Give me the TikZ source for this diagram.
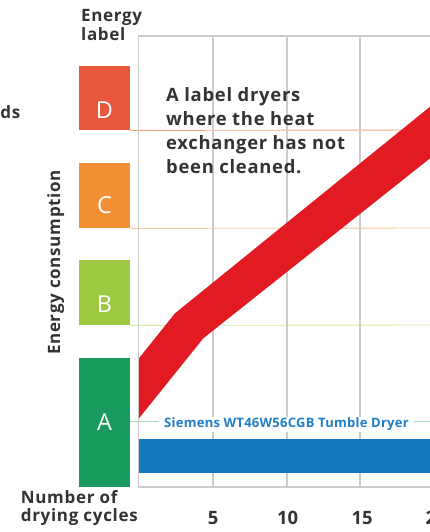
\documentclass[tikz,border=0pt]{standalone}
\usepackage{fontspec}
\setmainfont{Open Sans}
\newfontfamily\semib[LetterSpace=4]{Open Sans}
\newfontfamily\siemf[LetterSpace=2]{Open Sans}
\definecolor{cD}{HTML}{E8573B}
\definecolor{cC}{HTML}{F39035}
\definecolor{cB}{HTML}{9DC942}
\definecolor{cA}{HTML}{199A5E}
\definecolor{lD}{HTML}{F4A585}
\definecolor{lC}{HTML}{FAC89A}
\definecolor{lB}{HTML}{D6EAA6}
\definecolor{lA}{HTML}{A8D5BC}
\definecolor{gridgray}{HTML}{CCCCCC}
\definecolor{bandred}{HTML}{E21B23}
\definecolor{barblue}{HTML}{1479BF}
\definecolor{txt}{HTML}{333333}
\definecolor{siem}{HTML}{1E7FC8}
\begin{document}
\begin{tikzpicture}[x=1pt,y=-1pt,
  gridline/.style={draw=gridgray, line width=1.5pt},
  lvlline/.style={line width=0.9pt},
  ebox/.style={rectangle, inner sep=0pt, minimum width=51pt, anchor=north west},
  eletter/.style={text=white, font=\fontsize{23.4}{26}\selectfont, anchor=base, inner sep=0pt},
  maintxt/.style={text=txt, font=\semib\bfseries\fontsize{18.4}{24}\selectfont, anchor=base west, inner sep=0pt},
  axtxt/.style={text=txt, font=\semib\bfseries\fontsize{17}{20}\selectfont, inner sep=0pt},
  numtxt/.style={text=txt, font=\bfseries\fontsize{18.4}{20}\selectfont, anchor=base, inner sep=0pt}]
\useasboundingbox (0,0) rectangle (430,532);
% energy label boxes
\node[ebox, fill=cD, minimum height=64pt] (D) at (79,66) {};
\node[ebox, fill=cC, minimum height=65pt] (C) at (79,163) {};
\node[ebox, fill=cB, minimum height=65pt] (B) at (79,260) {};
\node[ebox, fill=cA, minimum height=129pt] (A) at (79,358) {};
\node[eletter] (DL) at (104.5,118.3) {D};
\node[eletter] (CL) at (104.5,213.3) {C};
\node[eletter] (BL) at (104.5,312.7) {B};
\node[eletter] (AL) at (104.5,430.7) {A};
% right edge coordinates
\coordinate (rD) at (432,130);
\coordinate (rC) at (432,228);
\coordinate (rB) at (432,325);
\coordinate (rA) at (432,421.3);
\coordinate (aA) at (130,421.3);
\draw[lvlline, draw=lD] (D.south east) -- (rD);
\draw[lvlline, draw=lC] (C.south east) -- (rC);
\draw[lvlline, draw=lB] (B.south east) -- (rB);
\draw[lvlline, draw=lA] (aA) -- (rA);
% frame and grid
\coordinate (ftl) at (138.5,36);
\coordinate (fbl) at (138.5,487);
\coordinate (ftr) at (432,36);
\coordinate (fbr) at (432,487);
\draw[gridline] (ftr) -- (ftl) -- (fbl) -- (fbr);
\foreach \gx/\nm in {213/g5,287/g10,360/g15,434/g20} {
  \coordinate (\nm t) at (\gx,36);
  \coordinate (\nm b) at (\gx,487);
  \draw[gridline] (\nm t) -- (\nm b);
}
% red band
\fill[bandred] (139,358.3) -- (175,313.3) -- (440,98.6) -- (440,150.4) -- (203.3,338.3) -- (139,418.3) -- cycle;
% blue bar
\fill[barblue] (139,438.7) rectangle (434,473.3);
% label of the Siemens dryer
\node[fill=white, inner xsep=5pt, inner ysep=1pt, anchor=base west, text=siem,
      font=\siemf\bfseries\fontsize{13}{14}\selectfont] (siem) at (159,427.7) {Siemens WT46W56CGB Tumble Dryer};
% texts
\node[maintxt] (t1) at (166,101.7) {A label dryers};
\node[maintxt] (t2) at (166,125.5) {where the heat};
\node[maintxt] (t3) at (166,149.3) {exchanger has not};
\node[maintxt] (t4) at (166,173) {been cleaned.};
\node[axtxt, anchor=base west] (el1) at (81,21.7) {Energy};
\node[axtxt, anchor=base west] (el2) at (81,40.7) {label};
\node[axtxt, anchor=base east] (ds) at (20.5,118.3) {ds};
\node[axtxt, anchor=base, rotate=90] (ec) at (60,262.5) {Energy consumption};
\node[axtxt, anchor=base west] (nc1) at (20.7,503.3) {Number of};
\node[axtxt, anchor=base west] (nc2) at (20.7,521) {drying cycles};
\node[numtxt] (n5) at (213,524) {5};
\node[numtxt] (n10) at (287.5,524) {10};
\node[numtxt] (n15) at (362,524) {15};
\node[numtxt] (n20) at (436,524) {20};
\end{tikzpicture}
\end{document}
